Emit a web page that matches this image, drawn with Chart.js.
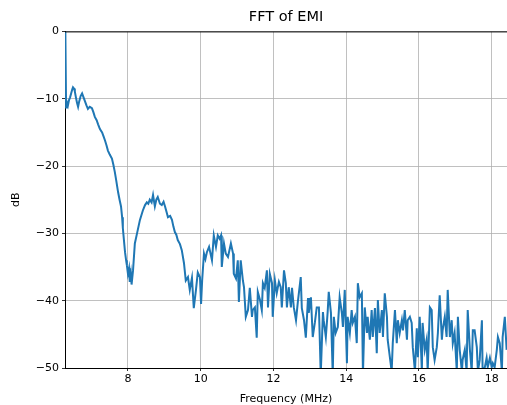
<!DOCTYPE html>
<html lang="en">
<head>
  <meta charset="UTF-8" />
  <title>FFT of EMI</title>
  <script src="https://cdn.jsdelivr.net/npm/chart.js"></script>
  <style>
    body { margin: 0; background: #fff; }
    canvas { display: block; }
  </style>
</head>
<body>
  <canvas id="fftChart" width="507" height="405"></canvas>

  <script>
  // frequencies (MHz) and levels (dB)
  const freqMHz = [
    6.28, 6.30, 6.32, 6.35, 6.38, 6.41, 6.44, 6.47, 6.49, 6.52, 6.54, 6.57, 6.60, 6.63, 6.66, 6.70,
    6.74, 6.78, 6.82, 6.86, 6.90, 6.95, 7.01, 7.05, 7.09, 7.14, 7.18, 7.23, 7.29, 7.33, 7.37, 7.41,
    7.45, 7.50, 7.56, 7.60, 7.64, 7.68, 7.73, 7.77, 7.81, 7.84, 7.86, 7.89, 7.92, 7.95, 7.97, 8.00,
    8.03, 8.05, 8.08, 8.10,
    8.14, 8.19, 8.25, 8.29, 8.33, 8.37, 8.41, 8.47, 8.52, 8.56, 8.60, 8.65, 8.69, 8.74, 8.78, 8.82,
    8.88, 8.93, 8.98, 9.02, 9.06, 9.10, 9.16, 9.21, 9.25, 9.29, 9.33, 9.37, 9.43, 9.48, 9.54, 9.59,
    9.65, 9.70, 9.76, 9.81, 9.87, 9.92,
    9.98, 10.01, 10.04, 10.09, 10.13, 10.17, 10.23, 10.31, 10.36, 10.42, 10.47, 10.52, 10.56, 10.58,
    10.64, 10.69, 10.75, 10.83, 10.89, 10.91, 10.97, 11.02, 11.05, 11.10, 11.16, 11.19, 11.24, 11.30,
    11.35, 11.41, 11.43, 11.49, 11.54, 11.57, 11.63, 11.68, 11.71, 11.76, 11.82, 11.85,
    11.90, 11.96, 11.98, 12.04, 12.09, 12.15, 12.20, 12.23, 12.29, 12.34, 12.37, 12.42, 12.48, 12.51,
    12.56, 12.62, 12.67, 12.75, 12.78, 12.84, 12.89, 12.95, 12.97, 13.03, 13.08, 13.14, 13.19, 13.25,
    13.30, 13.36, 13.38, 13.44, 13.49, 13.52, 13.58, 13.63, 13.66, 13.71, 13.77,
    13.82, 13.88, 13.91, 13.96, 14.02, 14.04, 14.10, 14.15, 14.18, 14.24, 14.29, 14.32, 14.37, 14.43,
    14.46, 14.51, 14.57, 14.59, 14.65, 14.70, 14.73, 14.79, 14.84, 14.87, 14.92, 14.98, 15.01, 15.06,
    15.12, 15.14, 15.20, 15.25, 15.28, 15.34, 15.39, 15.42, 15.47, 15.53, 15.56, 15.61, 15.67, 15.69,
    15.75, 15.80, 15.83, 15.89, 15.94, 15.97, 16.02, 16.08, 16.10, 16.16, 16.21, 16.24, 16.30, 16.35,
    16.38, 16.43, 16.49, 16.52, 16.57, 16.63, 16.65, 16.71, 16.76, 16.79, 16.85, 16.90, 16.93, 16.98,
    17.04, 17.07, 17.12, 17.18, 17.20, 17.26, 17.31, 17.34, 17.40, 17.45, 17.48, 17.53, 17.59, 17.62,
    17.67, 17.73, 17.75, 17.81, 17.86, 17.89, 17.95, 18.00, 18.03, 18.08, 18.14, 18.17, 18.22, 18.28,
    18.30, 18.36, 18.41
  ];

  const levelDb = [
    0, -11.3, -10.5, -11.0, -10.2, -9.8, -9.2, -8.6, -8.3, -8.5, -8.9, -9.8, -10.6, -11.2, -10.4, -9.6,
    -9.2, -9.8, -10.4, -11.0, -11.5, -11.2, -11.4, -12.0, -12.7, -13.2, -13.8, -14.5, -15.0, -15.6, -16.2, -16.9,
    -17.7, -18.3, -18.9, -19.8, -20.9, -22.2, -23.9, -25.0, -26.0, -27.6, -29.2, -31.0, -32.8, -34.0, -34.7, -36.0,
    -35.2, -37.2, -36.0, -37.6,
    -35.5, -31.5, -30.0, -29.0, -28.0, -27.3, -26.6, -25.8, -25.4, -25.6, -25.0, -25.4, -24.3, -26.0, -25.0, -24.6,
    -25.6, -25.8, -25.3, -26.0, -26.8, -27.6, -27.4, -28.0, -29.0, -29.8, -30.2, -31.0, -31.6, -32.5, -34.4, -37.0,
    -36.5, -38.4, -36.6, -41.1, -38.4, -35.8,
    -36.5, -40.5, -37.0, -33.0, -33.8, -32.8, -32.0, -34.0, -30.3, -32.0, -30.3, -30.8, -30.3, -35.0,
    -31.5, -33.0, -33.5, -31.5, -33.0, -36.0, -36.7, -34.0, -40.2, -34.0, -37.0, -38.0, -42.4, -41.4,
    -38.1, -42.4, -41.4, -41.0, -45.5, -38.7, -39.9, -41.4, -37.4, -38.1, -35.5, -41.0,
    -36.0, -37.4, -42.4, -37.0, -38.9, -37.2, -38.0, -41.0, -35.5, -37.4, -41.0, -38.0, -41.0, -38.1,
    -41.0, -42.9, -40.2, -36.5, -41.1, -42.9, -45.5, -39.6, -41.8, -39.5, -45.4, -43.2, -41.0, -41.0,
    -51.0, -41.7, -42.9, -45.4, -41.7, -38.7, -41.8, -51.0, -42.4, -44.8, -43.9,
    -39.5, -41.8, -43.9, -38.4, -49.3, -42.4, -44.8, -41.4, -43.3, -42.4, -46.3, -37.4, -39.5, -38.9,
    -51.0, -41.0, -44.8, -42.4, -45.8, -41.4, -45.4, -41.1, -47.8, -39.9, -44.8, -41.4, -45.4, -38.9,
    -42.4, -45.8, -48.4, -50.5, -46.3, -41.4, -46.3, -42.9, -44.8, -42.9, -44.4, -41.4, -45.8, -42.9,
    -42.4, -43.3, -46.9, -50.5, -44.1, -48.4, -42.4, -50.5, -43.3, -47.3, -45.8, -50.5, -41.0, -41.4,
    -46.9, -48.8, -46.9, -44.8, -39.2, -45.8, -44.4, -42.4, -45.4, -38.4, -45.4, -42.9, -46.3, -44.8,
    -50.5, -42.4, -47.3, -50.5, -48.8, -47.3, -50.5, -41.4, -47.3, -50.5, -44.4, -44.4, -46.9, -50.5,
    -48.8, -42.9, -50.5, -49.9, -48.5, -49.9, -48.5, -49.9, -49.3, -49.9, -47.3, -45.4, -46.3, -50.5,
    -45.4, -42.4, -47.3
  ];

  const xTicks = [8, 10, 12, 14, 16, 18];
  const yTicks = [-50, -40, -30, -20, -10, 0];

  const points = freqMHz.map((f, i) => ({ x: f, y: levelDb[i] }));

  const tickFont = { family: 'DejaVu Sans', size: 11 };

  // matplotlib-style top spine
  const topSpine = {
    id: 'topSpine',
    afterDraw(chart) {
      const { ctx, chartArea } = chart;
      ctx.save();
      ctx.strokeStyle = '#000';
      ctx.lineWidth = 1;
      ctx.beginPath();
      ctx.moveTo(chartArea.left, chartArea.top + 0.5);
      ctx.lineTo(chartArea.right, chartArea.top + 0.5);
      ctx.stroke();
      ctx.restore();
    }
  };

  Chart.defaults.color = '#000';

  const ctx = document.getElementById('fftChart').getContext('2d');
  new Chart(ctx, {
    type: 'line',
    data: {
      datasets: [{
        label: 'FFT',
        data: points,
        borderColor: '#1f77b4',
        borderWidth: 2,
        pointRadius: 0,
        tension: 0,
        fill: false
      }]
    },
    options: {
      responsive: false,
      animation: false,
      layout: { padding: 0 },
      plugins: {
        legend: { display: false },
        tooltip: { enabled: false },
        title: {
          display: true,
          text: 'FFT of EMI',
          fullSize: false,
          font: { family: 'DejaVu Sans', size: 14.5, weight: 'normal' },
          padding: { top: 9, bottom: 5 }
        }
      },
      scales: {
        x: {
          type: 'linear',
          min: 6.27,
          max: 18.42,
          afterBuildTicks: s => { s.ticks = xTicks.map(v => ({ value: v })); },
          afterFit: s => { s.height = 37; },
          ticks: { font: tickFont, padding: 2, maxRotation: 0 },
          grid: { color: '#b0b0b0', lineWidth: 0.8, tickLength: 3, tickColor: '#000' },
          border: { display: true, color: '#000', width: 1 },
          title: {
            display: true,
            text: 'Frequency (MHz)',
            font: { family: 'DejaVu Sans', size: 11 },
            padding: { top: 0, bottom: -1 }
          }
        },
        y: {
          min: -50,
          max: 0,
          afterBuildTicks: s => { s.ticks = yTicks.map(v => ({ value: v })); },
          afterFit: s => { s.width = 65; },
          ticks: {
            font: tickFont,
            padding: 3,
            callback: v => (v < 0 ? '\u2212' + Math.abs(v) : String(v))
          },
          grid: { color: '#b0b0b0', lineWidth: 0.8, tickLength: 3, tickColor: '#000' },
          border: { display: true, color: '#000', width: 1 },
          title: {
            display: true,
            text: 'dB',
            font: { family: 'DejaVu Sans', size: 11 },
            padding: { top: 10, bottom: 0 }
          }
        }
      }
    },
    plugins: [topSpine]
  });
  </script>
</body>
</html>
